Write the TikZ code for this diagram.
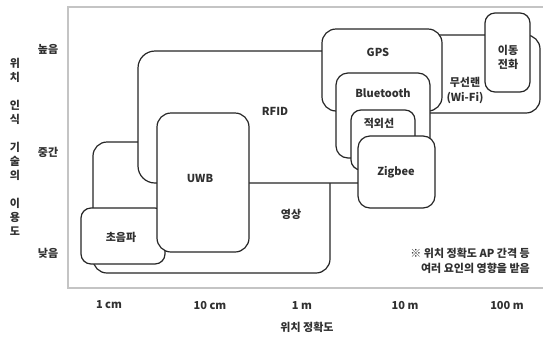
\documentclass[tikz,border=0pt]{standalone}
\usepackage{fontspec}
\setmainfont{Noto Sans CJK KR}
\usepackage{tikz}
\usetikzlibrary{calc}

\definecolor{inkline}{HTML}{262626}
\definecolor{inktext}{HTML}{303030}
\definecolor{framegray}{HTML}{C4C4C4}

\tikzset{
  region/.style={draw=inkline, line width=1.2pt, fill=white, rounded corners=#1},
  region/.default=13pt,
  lbl/.style={text=inktext, font=\fontsize{11}{14}\selectfont\bfseries, inner sep=0pt, align=center},
  axisline/.style={draw=framegray, line width=1.4pt}
}

\begin{document}
\begin{tikzpicture}[x=1pt, y=-1pt]
  \useasboundingbox (0,0) rectangle (543,338);
  % Plot frame
  \draw[axisline] (545,7) -- (68,7) -- (68,288) -- (545,288);
  % Regions, back to front
  \draw[region=14pt] (93,142) rectangle (330,273);
  \draw[region=17pt] (138,51) rectangle (405,183);
  \draw[region=10pt] (81,208) rectangle (165,264);
  \draw[region=14pt] (157,113) rectangle (249,252);
  \draw[region=14pt] (400,35) rectangle (540,113);
  \draw[region=14pt] (322,29) rectangle (442,111);
  \draw[region=10pt] (485,13) rectangle (530,92);
  \draw[region=12pt] (336,73) rectangle (430,158);
  \draw[region=10pt] (351,110) rectangle (415,170);
  \draw[region=12pt] (358,136) rectangle (435,208);
  % Region labels
  \node[lbl] (vision) at (291,214) {영상};
  \node[lbl] (rfid) at (275,111) {RFID};
  \node[lbl] (ultra) at (121,237) {초음파};
  \node[lbl] (uwb) at (200,178) {UWB};
  \node[lbl, font=\fontsize{11}{15}\selectfont\bfseries] (wifi) at (465,90) {무선랜\\(Wi-Fi)};
  \node[lbl] (gps) at (378,52) {GPS};
  \node[lbl] (mobile) at (508,57) {이동\\전화};
  \node[lbl] (bt) at (383,93) {Bluetooth};
  \node[lbl] (ir) at (379,123) {적외선};
  \node[lbl] (zigbee) at (396,172) {Zigbee};
  % Note
  \node[lbl, align=right, anchor=east, font=\fontsize{11}{15}\selectfont\bfseries] (note) at (530,261) {※ 위치 정확도 AP 간격 등\\여러 요인의 영향을 받음};
  % Axis ticks
  \foreach \x/\t [count=\i] in {109/1 cm, 210/10 cm, 302/1 m, 405/10 m, 507/100 m}
    \node[lbl] (xtick\i) at (\x,305) {\t};
  \node[lbl] (ytop) at (48,49) {높음};
  \node[lbl] (ymid) at (48,152) {중간};
  \node[lbl] (ylow) at (48,253) {낮음};
  % Axis titles
  \node[lbl] (xtitle) at (307,327) {위치 정확도};
  \foreach \c/\y [count=\i] in {위/63, 치/77, 인/105, 식/119, 기/147, 술/161, 의/175, 이/203, 용/217, 도/231}
    \node[lbl] (ytitle\i) at (15,\y) {\c};
\end{tikzpicture}
\end{document}
